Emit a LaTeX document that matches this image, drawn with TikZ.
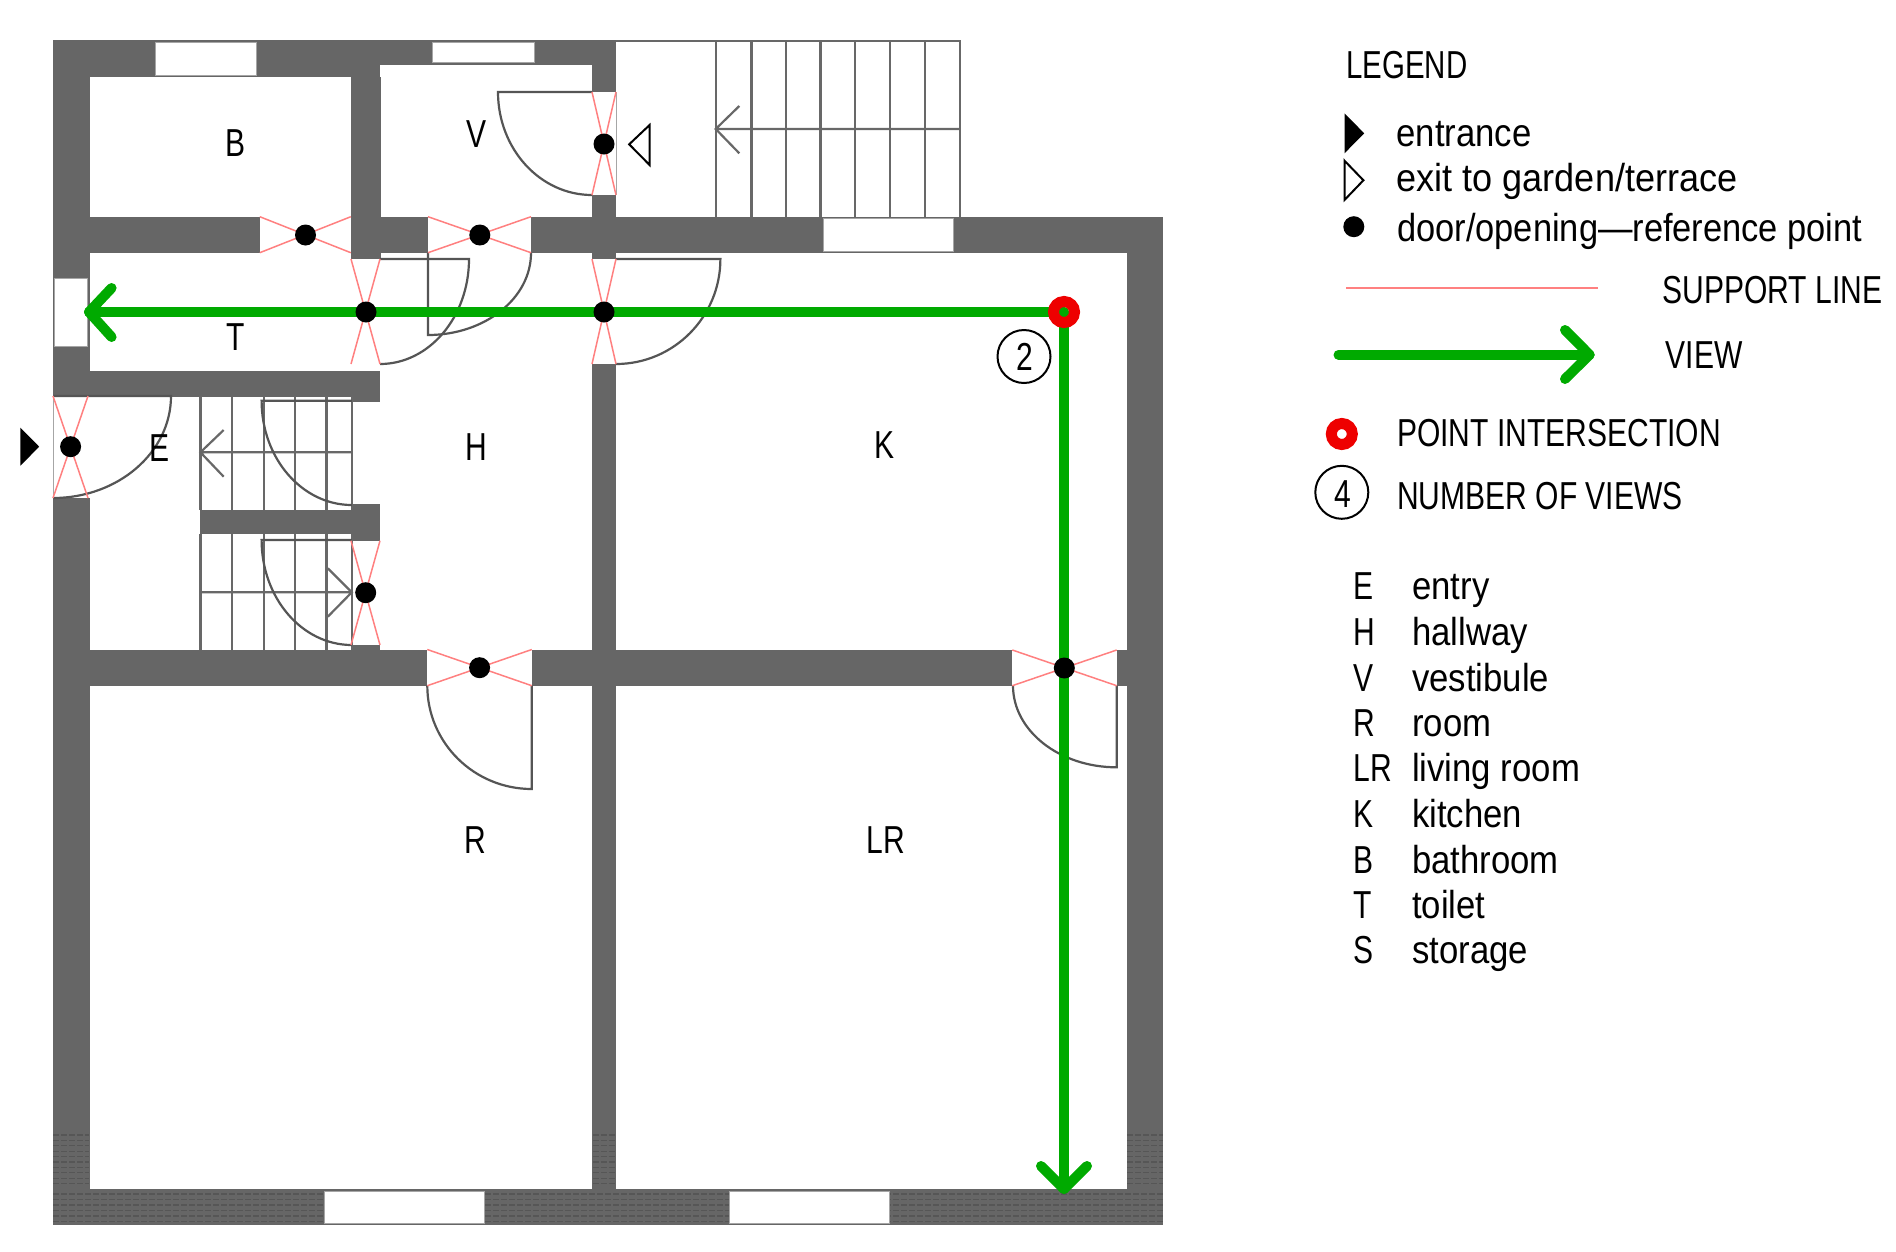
\documentclass[tikz,border=0pt]{standalone}
\usepackage{fontspec}
\usetikzlibrary{calc}
\setmainfont{Liberation Sans}
\newfontfamily\capsfont[FakeStretch=0.77]{Liberation Sans}
\newfontfamily\titlefont[FakeStretch=0.755]{Liberation Sans}
\newfontfamily\lowfont[FakeStretch=0.89]{Liberation Sans}
\newfontfamily\exitfont[FakeStretch=0.925]{Liberation Sans}
\newfontfamily\doorfont[FakeStretch=0.883]{Liberation Sans}
\definecolor{wallgrey}{HTML}{666666}
\definecolor{hatchgrey}{HTML}{565656}
\definecolor{leafgrey}{HTML}{555555}
\definecolor{stairgrey}{HTML}{686868}
\definecolor{supportpink}{HTML}{FF8080}
\definecolor{viewgreen}{HTML}{00AA00}
\definecolor{pointred}{HTML}{EE0000}
\tikzset{
  wall/.style={fill=wallgrey,draw=none},
  windowpane/.style={fill=white,draw=gray!70,line width=0.8pt},
  jamb/.style={draw=gray!70,line width=1pt},
  leaf/.style={draw=leafgrey,line width=2.2pt},
  stairline/.style={draw=stairgrey,line width=2.2pt},
  support/.style={draw=supportpink,line width=1.5pt},
  view/.style={draw=viewgreen,line width=10pt,line cap=round,line join=round},
  refdot/.style={circle,fill=black,inner sep=0pt,minimum size=21pt},
  hatch/.style={draw=hatchgrey,line width=1.1pt,dash pattern=on 6pt off 2pt},
  caps/.style={inner sep=0pt,font=\capsfont\fontsize{39}{39}\selectfont,text=black},
  low/.style={inner sep=0pt,font=\lowfont\fontsize{39}{39}\selectfont,text=black},
  markerring/.style={circle,draw=pointred,line width=11pt,inner sep=0pt,minimum size=21pt},
  countring/.style={circle,draw=black,line width=2pt,inner sep=0pt,minimum size=53pt},
}
% door leaf: hinge C, straight to A, quarter ellipse to B
\newcommand{\doorleaf}[6]{%
  \draw[leaf] (#5,#6) -- (#1,#2) .. controls ($(#1,#2)!.5523!(#1+#3-#5,#2+#4-#6)$) and ($(#3,#4)!.5523!(#1+#3-#5,#2+#4-#6)$) .. (#3,#4);}
\newcommand{\crosslines}[4]{%
  \draw[support] (#1,#2) -- (#3,#4) (#1,#4) -- (#3,#2);}
\begin{document}
\begin{tikzpicture}[x=1pt,y=-1pt]
\useasboundingbox (0,0) rectangle (1896,1251);
\fill[white] (0,0) rectangle (1896,1251);
% walls
\foreach \a/\b/\c/\d in {
  53/40/380/77.3, 380/40/616/64.7, 53/40/89.6/396, 53/371/380/396.5, 351/371/380/402,
  53/498/89.6/1225, 351/77/380.6/259,
  89/216.7/259.8/252.7, 351/216.7/428/252.7, 531/216.7/1163.3/252.7,
  592/64/616/92, 592/195/616/259,
  1126.7/216.7/1163.3/1225, 591.8/364.3/616.3/1225,
  200.4/510/351/534, 351/504/380/540.7, 351/645/380/650,
  53/649.5/427.3/685.7, 531.8/649.5/1012.3/685.7, 1116.7/650/1126.7/685.7,
  53/1188.5/1163.3/1225}
  {\fill[wall] (\a,\b) rectangle (\c,\d);}
% wall texture near the bottom
\foreach \k in {0,...,9}{
  \draw[hatch] (53,1135+5.4*\k) -- (89,1135+5.4*\k);
  \draw[hatch] (592.5,1135+5.4*\k) -- (616,1135+5.4*\k);
  \draw[hatch] (1127,1135+5.4*\k) -- (1163,1135+5.4*\k);}
\foreach \k in {0,...,5}{
  \draw[hatch] (53,1194+5.5*\k) -- (1163,1194+5.5*\k);}
% windows
\foreach \a/\b/\c/\d in {
  154.9/42/256.5/75, 432/42/534/62.7, 823/218.7/953.6/251.3,
  54.5/278.7/87.5/346, 324/1191/484/1223.3, 729/1191/889.6/1223.3}
  {\filldraw[windowpane] (\a,\b) rectangle (\c,\d);}
% opening jambs
\draw[jamb] (53,396) -- (53,498);
\draw[jamb] (616,92) -- (616,195);
% outer stair
\draw[stairline] (616,41) -- (959.6,41) -- (959.6,216.7);
\foreach \x in {715.7,751.4,785.7,820.4,855,890,924.6}
  {\draw[stairline] (\x,41) -- (\x,216.7);}
\draw[stairline] (739.3,106) -- (715.7,129) -- (739.3,153.3) (715.7,129) -- (959.6,129);
% inner stairs
\foreach \x in {200.4,231.8,263.7,294.7,326.5,351.8}{
  \draw[stairline] (\x,396) -- (\x,510);
  \draw[stairline] (\x,534) -- (\x,649.5);}
\draw[stairline] (223.7,430) -- (200.4,452.3) -- (223.7,476.7) (200.4,452.3) -- (351.8,452.3);
\draw[stairline] (327.8,568.3) -- (351.8,592.3) -- (327.8,616.7) (351.8,592.3) -- (200.4,592.3);
% door leaves
\doorleaf{498}{92}{592}{195}{592}{92}
\doorleaf{428}{335}{531}{253}{428}{253}
\doorleaf{469}{259}{380}{364}{380}{259}
\doorleaf{720.4}{259}{616}{364}{616}{259}
\doorleaf{171}{396}{53}{498}{53}{396}
\doorleaf{261.6}{400.7}{351.8}{505}{351.8}{400.7}
\doorleaf{261.6}{540}{351.8}{645}{351.8}{540}
\doorleaf{531.8}{789}{427.3}{685.7}{531.8}{685.7}
\doorleaf{1116.7}{767.3}{1013}{685.7}{1116.7}{685.7}
% support lines
\crosslines{592}{92}{616}{195}
\crosslines{259.8}{216.7}{350.8}{252.7}
\crosslines{428}{216.7}{531}{252.7}
\crosslines{351}{259}{380}{364}
\crosslines{592}{259}{616}{364}
\crosslines{53}{396}{88}{498}
\crosslines{351}{540.7}{380}{645}
\crosslines{427.3}{649.5}{531.8}{685.7}
\crosslines{1012.3}{650}{1116.7}{685.7}
% view lines
\coordinate (pi) at (1064,312);
\coordinate (leftTip) at (89,312);
\coordinate (downTip) at (1064,1189);
\draw[view] (pi) -- (leftTip);
\draw[view] (111.6,288) -- (leftTip) -- (111.6,337);
\draw[view] (pi) -- (downTip);
\draw[view] (1041,1166) -- (downTip) -- (1087,1166);
% reference points
\node[refdot] (dV)  at (604,144) {};
\node[refdot] (dB)  at (305.5,235) {};
\node[refdot] (dVH) at (479.8,235) {};
\node[refdot] (dT)  at (366,312) {};
\node[refdot] (dK)  at (604,312) {};
\node[refdot] (dE)  at (70.6,446.7) {};
\node[refdot] (dS)  at (365.7,592.7) {};
\node[refdot] (dR)  at (479.6,667.7) {};
\node[refdot] (dLR) at (1064.3,668) {};
\node[markerring] (ring) at (pi) {};
\node[countring] (count2) at (1024,356.5) {};
\node[caps,anchor=base] (n2) at (1024.5,370) {2};
% entrance and exit markers
\fill[black] (20.4,427.7) -- (20.4,465.7) -- (39.2,446.7) -- cycle;
\draw[black,line width=2pt] (629.2,144.3) -- (649.6,125) -- (649.6,165) -- cycle;
% room labels
\node[caps,anchor=base] (rB) at (235.6,156) {B};
\node[caps,anchor=base] (rV) at (477,147.3) {V};
\node[caps,anchor=base] (rT) at (236,350) {T};
\node[caps,anchor=base] (rE) at (159.5,461) {E};
\node[caps,anchor=base] (rH) at (476,460) {H};
\node[caps,anchor=base] (rK) at (884.5,458) {K};
\node[caps,anchor=base] (rR) at (475,853.3) {R};
\node[caps,anchor=base] (rLR) at (885.8,853.3) {LR};
% legend
\node[caps,font=\titlefont\fontsize{39}{39}\selectfont,anchor=base west] (legendTitle) at (1346,78.3) {LEGEND};
\fill[black] (1344.5,113.3) -- (1344.5,153.3) -- (1364.2,133.3) -- cycle;
\draw[black,line width=2pt] (1344.5,160.7) -- (1363.4,180.3) -- (1344.5,200) -- cycle;
\node[refdot] (legendDot) at (1353.8,226.7) {};
\node[low,anchor=base west] (t1) at (1396.3,146.5) {entrance};
\node[low,font=\exitfont\fontsize{39}{39}\selectfont,anchor=base west] (t2) at (1396.3,191.5) {exit to garden/terrace};
\node[low,font=\doorfont\fontsize{39}{39}\selectfont,anchor=base west] (t3) at (1397,241.5) {door/opening—reference point};
\coordinate (sA) at (1346.4,288);
\coordinate (sB) at (1598,288);
\draw[support] (sA) -- (sB);
\node[caps,anchor=base west] (t4) at (1662.5,303) {SUPPORT LINE};
\coordinate (vA) at (1338.5,354.7);
\coordinate (vB) at (1589.6,354.7);
\draw[view] (vA) -- (vB);
\draw[view] (1565,330) -- (vB) -- (1565,379);
\node[caps,anchor=base west] (t5) at (1665.5,368.3) {VIEW};
\node[circle,draw=pointred,line width=11pt,inner sep=0pt,minimum size=21pt,fill=white] (legendRing) at (1341.8,434) {};
\node[caps,anchor=base west] (t6) at (1397,446.5) {POINT INTERSECTION};
\node[countring] (count4) at (1341.8,492.3) {};
\node[caps,anchor=base] (n4) at (1343,507) {4};
\node[caps,anchor=base west] (t7) at (1397,509.5) {NUMBER OF VIEWS};
% key
\foreach \n/\yy/\k/\w in {a/599/E/entry, b/645/H/hallway, c/691/V/vestibule, d/736.5/R/room,
  e/781.5/LR/living room, f/827.5/K/kitchen, g/873/B/bathroom, h/918.5/T/toilet, i/963.5/S/storage}{
  \node[caps,anchor=base west] (k\n) at (1353.5,\yy) {\k};
  \node[low,anchor=base west] (w\n) at (1412,\yy) {\w};}
\end{tikzpicture}
\end{document}
